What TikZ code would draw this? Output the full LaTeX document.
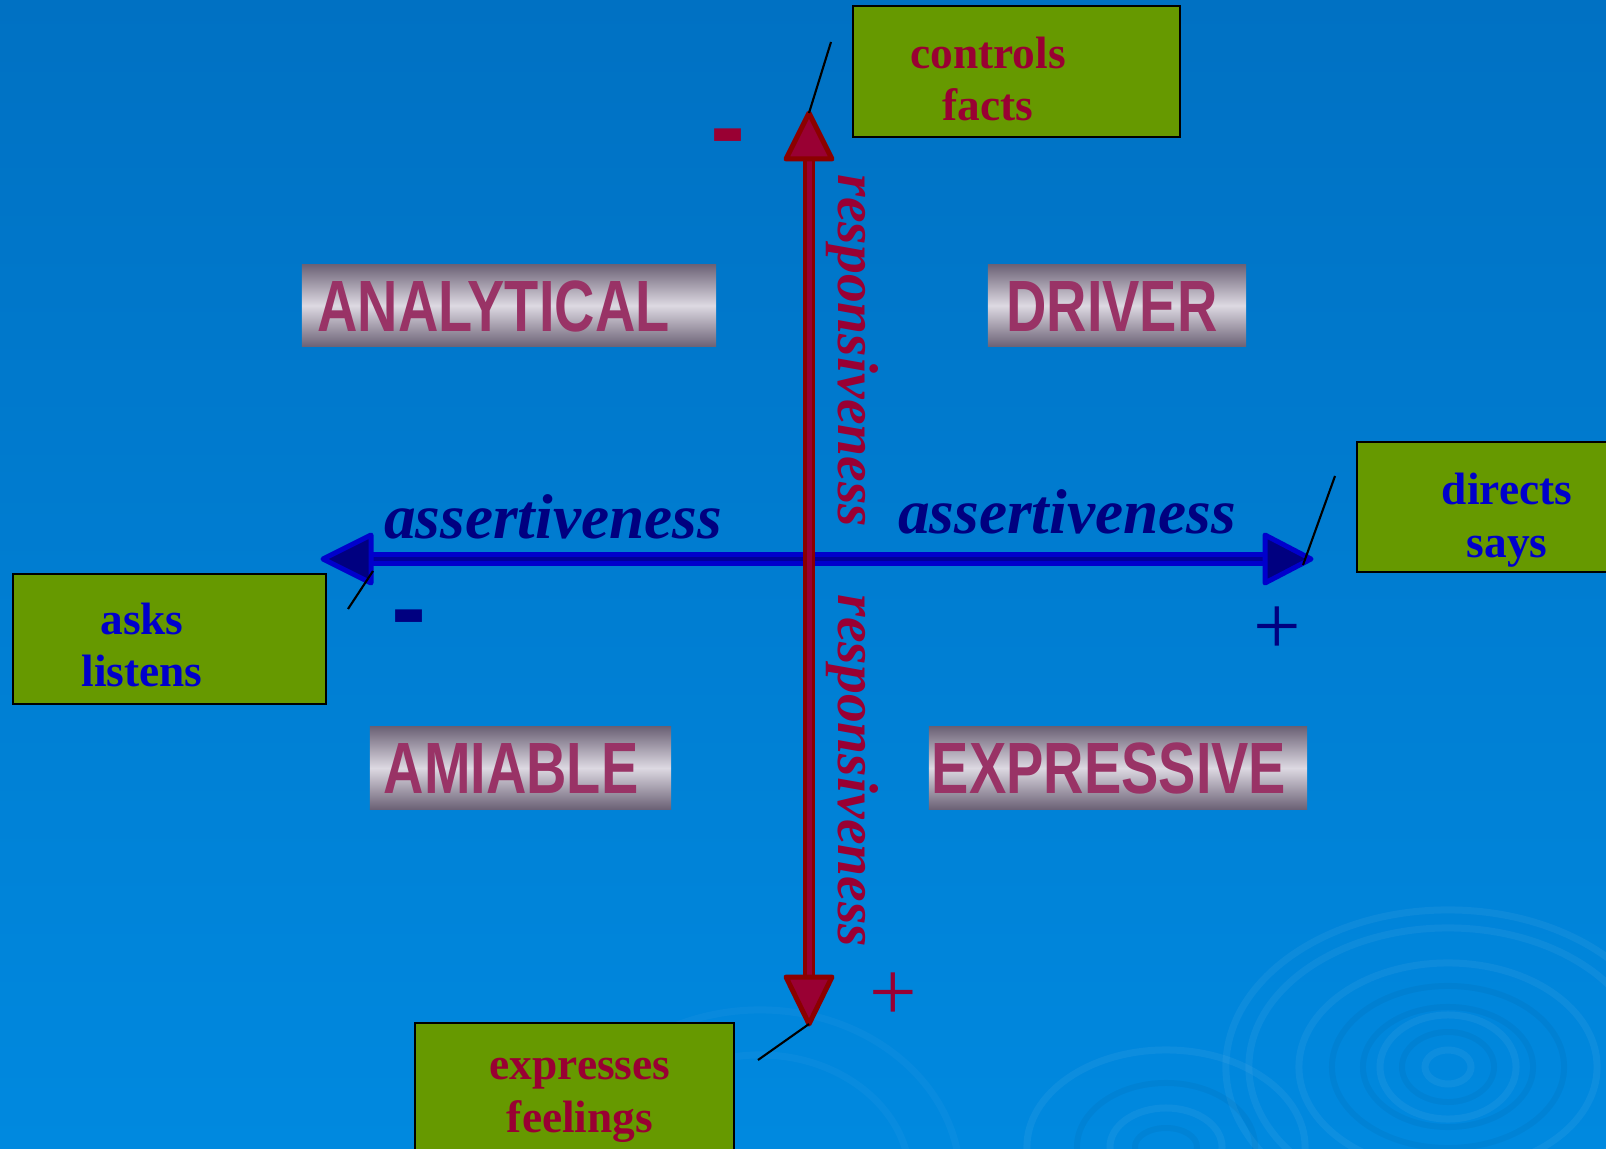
\documentclass[tikz,border=0pt]{standalone}
\usepackage{fontspec}
\setmainfont{Liberation Serif}
\setsansfont{Liberation Sans}
\usetikzlibrary{positioning}
\definecolor{bgtop}{HTML}{0071C3}
\definecolor{bgbot}{HTML}{0089DF}
\definecolor{axred}{HTML}{8B0000}
\definecolor{axcrim}{HTML}{990033}
\definecolor{axblue}{HTML}{0000CC}
\definecolor{axnavy}{HTML}{000080}
\definecolor{boxgreen}{HTML}{669900}
\definecolor{quadtxt}{HTML}{993366}
\definecolor{bardark}{HTML}{6C6276}
\definecolor{barlight}{HTML}{DDD9E2}
\newcommand{\tallword}[1]{\scalebox{1}[1.3]{#1}}
\tikzset{ring/.style={draw=white, draw opacity=.05, line width=.07cm}, dring/.style={draw=black, draw opacity=.04, line width=.06cm}, vshaft/.style={draw=axred, double=axcrim, line width=.035cm, double distance=.05cm}, hshaft/.style={draw=axblue, double=axnavy!70!axblue, line width=.045cm, double distance=.045cm}, vhead/.style={draw=axred, fill=axcrim, line width=.05cm, line join=round}, hhead/.style={draw=axblue, fill=axnavy, line width=.05cm, line join=round}, callout/.style={draw=black, line width=.7pt, fill=boxgreen, inner sep=0pt}, ctxt/.style={font=\bfseries\fontsize{12.9}{15}\selectfont, align=center, inner sep=0pt}, bar/.style={top color=bardark, bottom color=bardark, middle color=barlight, minimum height=.82cm, inner sep=0pt}, quad/.style={font=\sffamily\bfseries\fontsize{15.9}{18}\selectfont, text=quadtxt, inner sep=0pt}, axlab/.style={font=\bfseries\itshape\fontsize{18}{20}\selectfont, text=axnavy, inner sep=0pt}, vlab/.style={font=\bfseries\itshape\fontsize{16.4}{18}\selectfont, text=axcrim, rotate=-90, inner sep=0pt}, plussign/.style={font=\fontsize{24}{26}\selectfont, inner sep=0pt}, minussign/.style={font=\sffamily\bfseries\fontsize{30}{30}\selectfont, inner sep=0pt}, leader/.style={draw=black, line width=.6pt}}

\begin{document}
\begin{tikzpicture}[x=.01cm, y=-.01cm]
\useasboundingbox (0,0) rectangle (1606,1149);
\shade[top color=bgtop, bottom color=bgbot] (0,0) rectangle (1606,1149);
\foreach \rx/\ry in {2.22/1.57,1.99/1.39,1.49/1.04,.68/.52,.23/.17} \draw[ring] (1448,1067) ellipse [x radius=\rx cm, y radius=\ry cm];
\foreach \rx/\ry in {1.16/.81,.85/.60,.46/.35} \draw[dring] (1448,1067) ellipse [x radius=\rx cm, y radius=\ry cm];
\foreach \rx/\ry in {1.39/.97,.56/.39} \draw[ring] (1166,1147) ellipse [x radius=\rx cm, y radius=\ry cm];
\foreach \rx/\ry in {.89/.64,.31/.19} \draw[dring] (1166,1147) ellipse [x radius=\rx cm, y radius=\ry cm];
\foreach \rx/\ry in {2.0/1.7,1.5/1.25} \draw[ring, draw opacity=.03] (760,1180) ellipse [x radius=\rx cm, y radius=\ry cm];

\coordinate (vtop) at (809,113); \coordinate (vbot) at (809,1024); \coordinate (hlft) at (323,559); \coordinate (hrgt) at (1311,559);
\draw[hshaft, shorten <=.40cm, shorten >=.40cm] (hlft) -- (hrgt);
\filldraw[hhead] (hlft) -- ++(48,-24) -- ++(0,48) -- cycle; \filldraw[hhead] (hrgt) -- ++(-46,-24) -- ++(0,48) -- cycle;
\draw[vshaft, shorten <=.40cm, shorten >=.40cm] (vtop) -- (vbot);
\filldraw[vhead] (vtop) -- ++(-23,46) -- ++(46,0) -- cycle; \filldraw[vhead] (vbot) -- ++(-23,-47) -- ++(46,0) -- cycle;

\node[vlab] (respup) at (852,351) {responsiveness}; \node[vlab] (resplow) at (852,771) {responsiveness};
\node[axlab] (assertl) at (553,517) {assertiveness}; \node[axlab] (assertr) at (1067,512) {assertiveness};
\node[minussign, text=axcrim] (mtop) at (728,146) {-}; \node[minussign, text=axnavy] (mlft) at (409,627) {-};
\node[plussign, text=axnavy] (prgt) at (1277,631) {+}; \node[plussign, text=axcrim] (pbot) at (893,997) {+};

\node[bar, minimum width=4.14cm] (analytical) at (509,305.5) {}; \node[quad] at (493.5,306) {\tallword{ANALYTICAL}};
\node[bar, minimum width=2.58cm] (driver) at (1117,305.5) {}; \node[quad] at (1112,306) {\tallword{DRIVER}};
\node[bar, minimum width=3.01cm] (amiable) at (520.5,768) {}; \node[quad] at (511,768) {\tallword{AMIABLE}};
\node[bar, minimum width=3.78cm] (expressive) at (1118,768) {}; \node[quad] at (1109,768) {\tallword{EXPRESSIVE}};

\node[callout, minimum width=3.27cm, minimum height=1.31cm] (ctrlbox) at (1016.5,71.5) {}; \node[ctxt, text=axcrim] (ctrltxt) at (988,79) {controls\\facts};
\node[callout, minimum width=3.27cm, minimum height=1.30cm] (dirbox) at (1520.5,507) {}; \node[ctxt, text=axblue] (dirtxt) at (1507,520) {directs\\says};
\node[callout, minimum width=3.13cm, minimum height=1.30cm] (askbox) at (169.5,639) {}; \node[ctxt, text=axblue] (asktxt) at (142,645) {asks\\listens};
\node[callout, minimum width=3.19cm, minimum height=1.32cm] (expbox) at (574.5,1089) {}; \node[ctxt, text=axcrim] (exptxt) at (580,1100) {expresses\\feelings};

\coordinate (ctrlend) at (831,42); \coordinate (dirend) at (1335,476); \coordinate (askend) at (348,609); \coordinate (expend) at (758,1060);
\draw[leader] (vtop) -- (ctrlend); \draw[leader] ([shift={(-8,6)}]hrgt) -- (dirend);
\draw[leader] ([shift={(50,12)}]hlft) -- (askend); \draw[leader] (vbot) -- (expend);
\end{tikzpicture}
\end{document}
